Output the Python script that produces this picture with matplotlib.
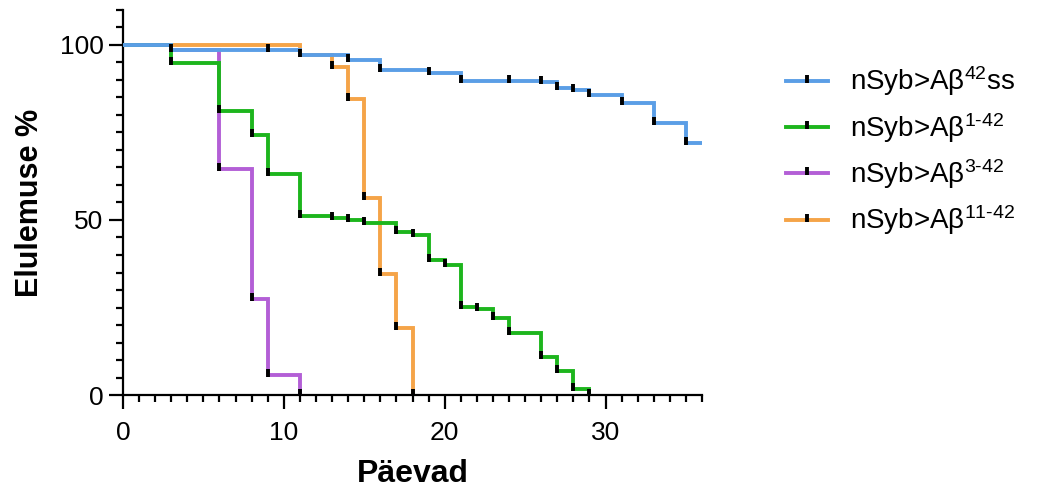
import numpy as np
import matplotlib
matplotlib.use("Agg")
import matplotlib.pyplot as plt
from matplotlib.path import Path
from matplotlib.lines import Line2D

plt.rcParams['font.family'] = ['Liberation Sans', 'DejaVu Sans']
plt.rcParams['mathtext.fontset'] = 'custom'
plt.rcParams['mathtext.rm'] = 'Liberation Sans'
plt.rcParams['mathtext.it'] = 'Liberation Sans:italic'
plt.rcParams['mathtext.bf'] = 'Liberation Sans:bold'

# survival curves (days, percent surviving)
blue_t = [0, 3, 11, 14, 16, 19, 21, 26, 27, 28, 29, 31, 33, 35, 36]
blue_s = [100, 98.4, 97.2, 95.8, 92.8, 92.0, 89.8, 89.3, 87.6, 87.2, 85.7, 83.4, 77.8, 71.9, 71.9]
blue_cens = [3, 9, 11, 14, 16, 19, 21, 24, 26, 27, 28, 29, 31, 33, 35]

green_t = [0, 3, 6, 8, 9, 11, 13, 14, 15, 17, 18, 19, 20, 21, 22, 23, 24, 26, 27, 28, 29]
green_s = [100, 94.7, 81.0, 74.2, 63.2, 51.1, 50.6, 50.0, 49.0, 46.6, 45.6, 38.7, 37.2,
           25.1, 24.5, 22.0, 17.7, 10.8, 7.0, 1.6, 0]
green_cens = [3, 6, 8, 9, 11, 13, 14, 15, 17, 18, 19, 20, 21, 22, 23, 24, 26, 27, 28, 29]

purple_t = [0, 3, 6, 8, 9, 11]
purple_s = [100, 98.4, 64.6, 27.5, 5.7, 0]
purple_cens = [6, 8, 9, 11]

orange_t = [0, 11, 13, 14, 15, 16, 17, 18]
orange_s = [100, 97.2, 93.8, 84.6, 56.3, 34.7, 19.2, 0]
orange_cens = [13, 14, 15, 16, 17, 18]

labels = ['nSyb>Aβ$^{\\mathrm{42}}$ss', 'nSyb>Aβ$^{\\text{1-42}}$',
          'nSyb>Aβ$^{\\text{3-42}}$', 'nSyb>Aβ$^{\\text{11-42}}$']
colors = ['#5b9ee6', '#1db51d', '#b35fd6', '#f5a448']

# censor tick: short vertical bar sitting mostly above the line
tick = Path([(0, -0.35), (0, 1.0)], [Path.MOVETO, Path.LINETO])

fig = plt.figure(figsize=(10.51, 4.92), dpi=100)
ax = fig.add_axes([0.117, 0.197, 0.551, 0.783])

series = [(blue_t, blue_s, blue_cens), (green_t, green_s, green_cens),
          (purple_t, purple_s, purple_cens), (orange_t, orange_s, orange_cens)]
zorders = [5, 4, 3, 2]

for (t, s, cens), c, z in zip(series, colors, zorders):
    ax.step(t, s, where='post', color=c, lw=2.8, zorder=z, solid_joinstyle='miter')
    # value of the curve at each censor time
    cy = [s[np.searchsorted(t, x, side='right') - 1] for x in cens]
    ax.plot(cens, cy, ls='none', marker=tick, ms=9, mew=2.8, mec='black',
            mfc='none', zorder=6)

ax.set_xlim(0, 36)
ax.set_ylim(0, 110)
ax.set_xticks([0, 10, 20, 30])
ax.set_xticks(np.arange(0, 37, 1), minor=True)
ax.set_yticks([0, 50, 100])
ax.set_yticks(np.arange(0, 111, 5), minor=True)

for side in ['top', 'right']:
    ax.spines[side].set_visible(False)
for side in ['left', 'bottom']:
    ax.spines[side].set_linewidth(1.6)
ax.tick_params(which='major', length=10, width=1.6, labelsize=19, pad=4, colors='black')
ax.tick_params(which='minor', length=5, width=1.6)
ax.tick_params(axis='x', which='major', pad=9)

ax.set_xlabel('Päevad', fontsize=23, fontweight='bold')
ax.set_ylabel('Elulemuse %', fontsize=22, fontweight='bold')
ax.xaxis.set_label_coords(0.5, -0.165)
ax.yaxis.set_label_coords(-0.135, 0.5)

handles = [Line2D([], [], color=c, lw=2.8, marker=tick, ms=9, mew=2.8, mec='black')
           for c in colors]
leg = ax.legend(handles, labels, loc='upper left', bbox_to_anchor=(1.145, 0.858),
                frameon=False, fontsize=20, handlelength=1.5, handletextpad=0.8,
                labelspacing=0.45, borderaxespad=0, borderpad=0)

fig.savefig('out.png', dpi=100)
